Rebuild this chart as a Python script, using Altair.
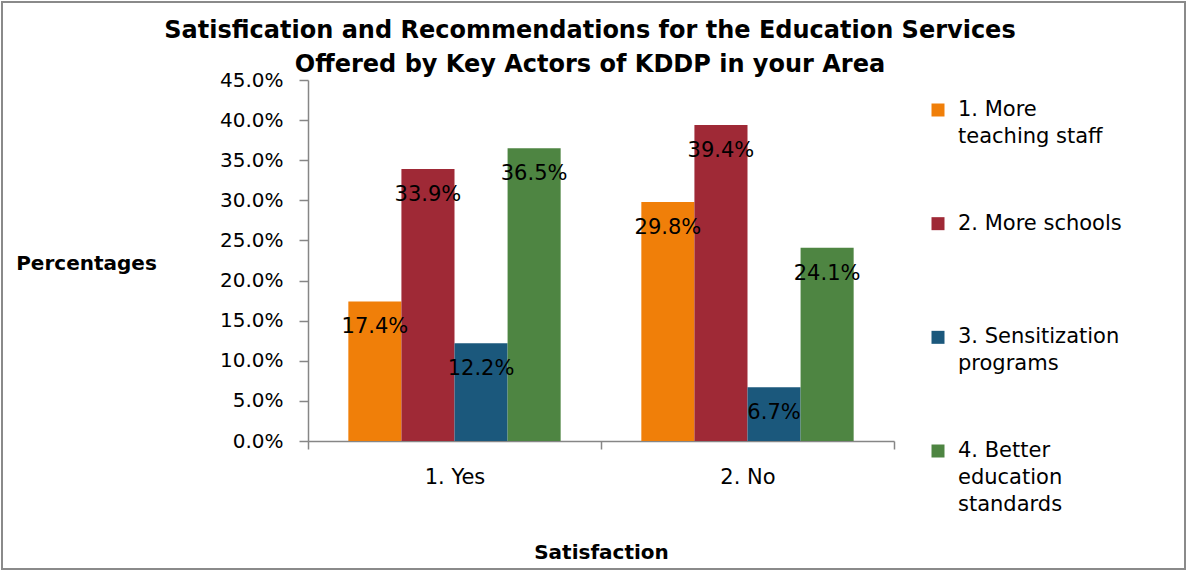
import altair as alt
import pandas as pd

FONT = "DejaVu Sans"

categories = ["1. Yes", "2. No"]
series = [
    "1. More teaching staff",
    "2. More schools",
    "3. Sensitization programs",
    "4. Better education standards",
]
legend_lines = [
    ["1. More", "teaching staff"],
    ["2. More schools"],
    ["3. Sensitization", "programs"],
    ["4. Better", "education", "standards"],
]
colors = ["#F07F09", "#9F2936", "#1B587C", "#4E8542"]
values_yes = [17.4, 33.9, 12.2, 36.5]
values_no = [29.8, 39.4, 6.7, 24.1]
y_ticks = [0, 5, 10, 15, 20, 25, 30, 35, 40, 45]

rows = []
for cat, vals in zip(categories, [values_yes, values_no]):
    for s, v in zip(series, vals):
        rows.append({"cat": cat, "series": s, "pct": v})
df = pd.DataFrame(rows)

legend_df = pd.DataFrame(
    {"series": series, "label": ["\n".join(l) for l in legend_lines]}
)

GRAY = "#868686"

x_enc = alt.X(
    "cat:N",
    sort=categories,
    scale=alt.Scale(paddingInner=0, paddingOuter=0),
    axis=alt.Axis(
        title="Satisfaction",
        labelAngle=0,
        labelFont=FONT,
        labelFontSize=21,
        labelColor="black",
        labelPadding=17,
        tickBand="extent",
        tickSize=8,
        tickColor=GRAY,
        tickWidth=1.5,
        domainColor=GRAY,
        domainWidth=1.5,
        grid=False,
        titleFont=FONT,
        titleFontSize=20,
        titleFontWeight="bold",
        titleColor="black",
        titleY=111,
        titleBaseline="middle",
    ),
)
xoff_enc = alt.XOffset(
    "series:N", sort=series, scale=alt.Scale(paddingInner=0, paddingOuter=0.76)
)
y_enc = alt.Y(
    "frac:Q",
    scale=alt.Scale(domain=[0, 0.45], nice=False),
    axis=alt.Axis(
        values=[t / 100 for t in y_ticks],
        format=".1%",
        grid=False,
        labelFont=FONT,
        labelFontSize=20,
        labelColor="black",
        labelPadding=16,
        tickSize=9,
        tickColor=GRAY,
        tickWidth=1.5,
        domainColor=GRAY,
        domainWidth=1.5,
        title="Percentages",
        titleAngle=0,
        titleX=-222,
        titleY=183,
        titleAlign="center",
        titleBaseline="middle",
        titleFont=FONT,
        titleFontSize=20,
        titleFontWeight="bold",
        titleColor="black",
    ),
)
color_enc = alt.Color(
    "series:N",
    sort=series,
    scale=alt.Scale(domain=series, range=colors),
    legend=None,
)

base = alt.Chart(df).transform_calculate(frac="datum.pct / 100")

bars = base.mark_bar().encode(x=x_enc, xOffset=xoff_enc, y=y_enc, color=color_enc)

labels = base.mark_text(
    font=FONT, fontSize=21, baseline="middle", dy=26, color="black"
).encode(
    x=x_enc,
    xOffset=xoff_enc,
    y=y_enc,
    text=alt.Text("frac:Q", format=".1%"),
)

main = alt.layer(bars, labels)

# legend drawn as its own layer, positioned by a point scale over the series
leg_y = alt.Y(
    "series:N",
    sort=series,
    scale=alt.Scale(type="point", range=[30, 371], padding=0),
    axis=None,
)
leg_base = alt.Chart(legend_df)
leg_sq = leg_base.mark_square(size=169, opacity=1).encode(
    x=alt.value(630), y=leg_y, color=color_enc
)
leg_txt = leg_base.mark_text(
    font=FONT,
    fontSize=21,
    align="left",
    baseline="middle",
    lineBreak="\n",
    lineHeight=27,
    color="black",
).encode(x=alt.value(650), y=leg_y, text="label:N")
legend = alt.layer(leg_sq, leg_txt)

border = alt.Chart(alt.Data(values=[{"b": 1}])).mark_rect(
    fillOpacity=0, stroke="#8A8A8A", strokeWidth=2
).encode(
    x=alt.value(-306),
    x2=alt.value(877),
    y=alt.value(-78),
    y2=alt.value(489),
)

chart = (
    alt.layer(border, main, legend)
    .resolve_scale(y="independent")
    .properties(
        width=586,
        height=361,
        view=alt.ViewBackground(stroke=None),
        autosize=alt.AutoSizeParams(type="none"),
        padding={"left": 308, "top": 80, "right": 295, "bottom": 131},
        title=alt.Title(
            [
                "Satisfication and Recommendations for the Education Services",
                "Offered by Key Actors of KDDP in your Area",
            ],
            font=FONT,
            fontSize=24,
            fontWeight="bold",
            color="black",
            lineHeight=34,
            anchor="middle",
            dx=-11,
            offset=-76,
        ),
    )
    .configure_view(stroke=None)
    .configure(background="white")
)

chart.save("out.html", embed_options={"renderer": "svg", "actions": False})
